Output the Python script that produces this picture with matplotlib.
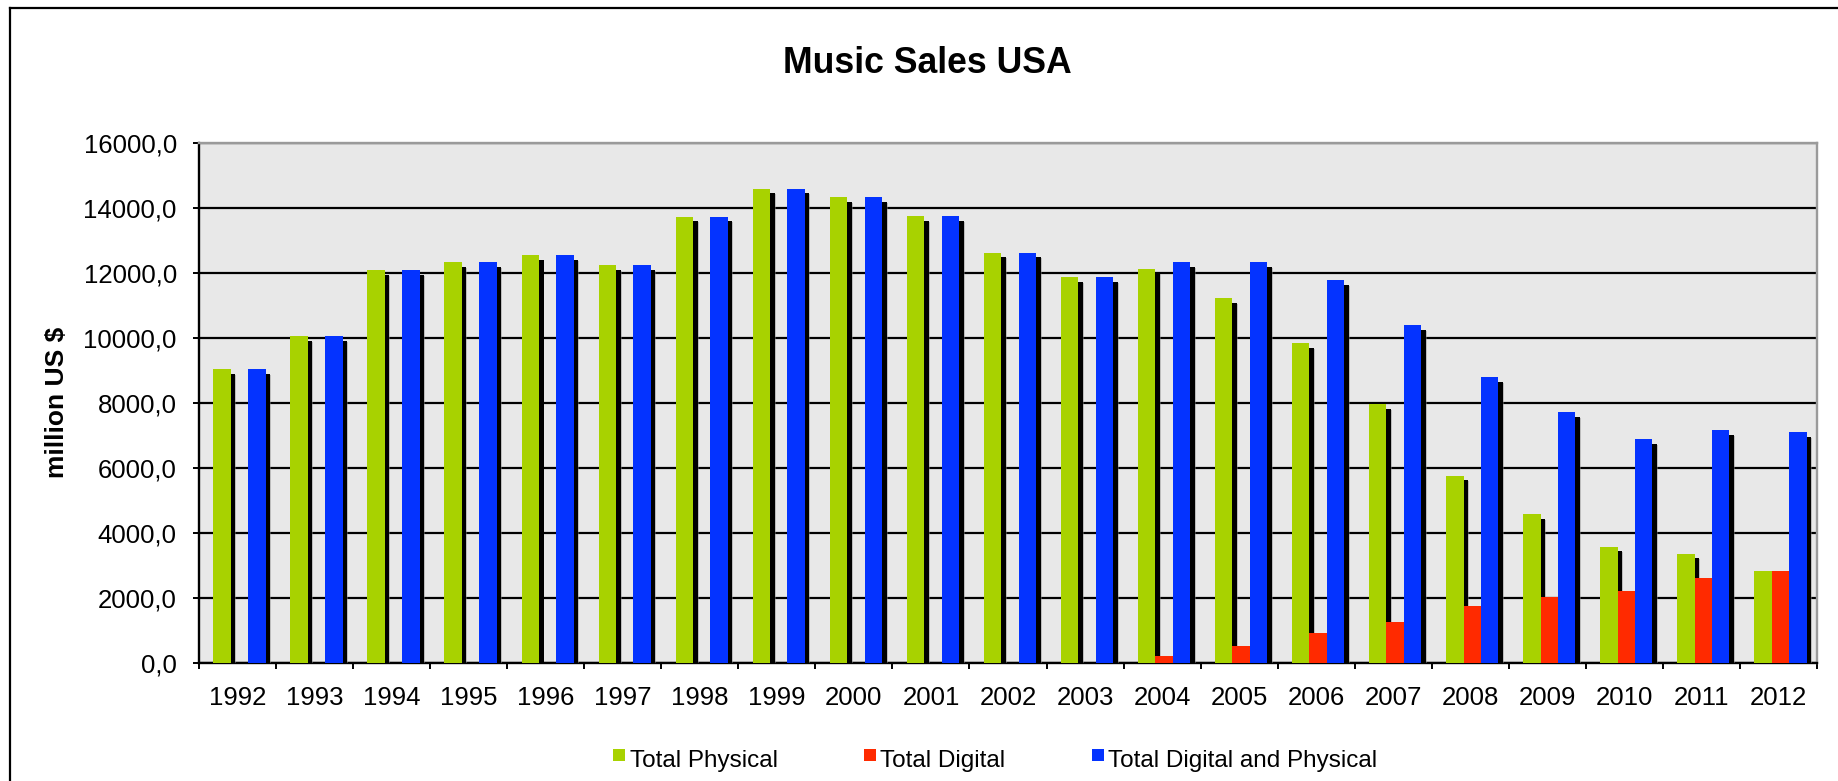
import matplotlib
matplotlib.use("Agg")
import matplotlib.pyplot as plt
import matplotlib.patheffects as pe
from matplotlib.patches import Rectangle
from matplotlib.lines import Line2D
from matplotlib.ticker import FixedLocator, FuncFormatter
import numpy as np

plt.rcParams['font.family'] = ['Liberation Sans', 'DejaVu Sans']

years = ['1992', '1993', '1994', '1995', '1996', '1997', '1998', '1999', '2000', '2001', '2002',
         '2003', '2004', '2005', '2006', '2007', '2008', '2009', '2010', '2011', '2012']
total_physical = [9024, 10046, 12068, 12320, 12534, 12237, 13724, 14585, 14324, 13741, 12614,
                  11854, 12120, 11210, 9830, 7960, 5750, 4570, 3570, 3360, 2810]
total_digital = [0, 0, 0, 0, 0, 0, 0, 0, 0, 0, 0,
                 0, 220, 500, 900, 1260, 1730, 2010, 2210, 2620, 2820]
total_both = [9024, 10046, 12068, 12320, 12534, 12237, 13724, 14585, 14324, 13741, 12614,
              11854, 12320, 12320, 11765, 10380, 8790, 7710, 6870, 7150, 7090]

series_names = ['Total Physical', 'Total Digital', 'Total Digital and Physical']
series_colors = ['#A8D200', '#FF2A00', '#0433FF']

W, H = 1838, 781
fig = plt.figure(figsize=(W / 100, H / 100), dpi=100)
fig.patch.set_facecolor('white')

ax_l, ax_r, ax_t, ax_b = 199, 1817, 142.7, 662.7
ax = fig.add_axes([ax_l / W, 1 - ax_b / H, (ax_r - ax_l) / W, (ax_b - ax_t) / H])
ax.set_facecolor('#E8E8E8')

x = np.arange(len(years))
bw = 0.226
offs = [-bw, 0.0, bw]
shadow = [pe.SimplePatchShadow(offset=(4.0, -4.0), shadow_rgbFace='#888888', alpha=0.45),
          pe.SimplePatchShadow(offset=(3.3, -3.3), shadow_rgbFace='black', alpha=1.0),
          pe.Normal()]
for vals, col, off in zip([total_physical, total_digital, total_both], series_colors, offs):
    bars = ax.bar(x + off + 0.025, vals, width=bw, color=col, linewidth=0, zorder=3)
    for b in bars:
        b.set_path_effects(shadow)

ax.set_xlim(-0.5, len(years) - 0.5)
ax.set_ylim(0, 16000)
ax.set_axisbelow(True)
ax.yaxis.set_major_locator(FixedLocator(np.arange(0, 16001, 2000)))
ax.yaxis.set_major_formatter(FuncFormatter(lambda v, p: f"{v:.1f}".replace('.', ',')))
ax.yaxis.grid(True, color='black', linewidth=1.6)
ax.xaxis.grid(False)

ax.set_xticks(x)
ax.set_xticklabels(years)
ax.set_xticks(np.arange(-0.5, len(years), 1.0), minor=True)
ax.tick_params(axis='x', which='major', length=0, pad=17, labelsize=18.5)
ax.tick_params(axis='x', which='minor', length=4.5, width=1.4, direction='out', color='black')
ax.tick_params(axis='y', which='major', length=4.5, width=1.4, direction='out', pad=11.5,
               labelsize=18.5, color='black')

for s in ['left', 'bottom']:
    ax.spines[s].set_color('black')
    ax.spines[s].set_linewidth(1.7)
for s in ['top', 'right']:
    ax.spines[s].set_color('#9A9A9A')
    ax.spines[s].set_linewidth(1.7)

ax.set_ylabel('million US $', fontsize=19, fontweight='bold')
ax.yaxis.label.set_rotation_mode('default')
ax.yaxis.label.set_va('center')
ax.yaxis.label.set_ha('center')
ax.yaxis.set_label_coords((57 - ax_l) / (ax_r - ax_l), 0.5)

fig.text(927 / W, 1 - 72.7 / H, 'Music Sales USA', ha='center', va='baseline',
         fontsize=25.7, fontweight='bold')

# legend
leg_marker_x = [613, 864, 1092]
for name, col, mx in zip(series_names, series_colors, leg_marker_x):
    fig.add_artist(Rectangle((mx / W, 1 - 761 / H), 12 / W, 12.5 / H,
                             transform=fig.transFigure, facecolor=col, edgecolor='none'))
    fig.text((mx + 16.5) / W, 1 - 766.7 / H, name, ha='left', va='baseline', fontsize=17.5)

# outer frame (top and left visible)
fig.add_artist(Line2D([9.5 / W, 1.0], [1 - 7.5 / H, 1 - 7.5 / H], transform=fig.transFigure,
                      color='black', linewidth=1.6))
fig.add_artist(Line2D([9.5 / W, 9.5 / W], [0.0, 1 - 7.5 / H], transform=fig.transFigure,
                      color='black', linewidth=1.6))

fig.savefig('out.png', dpi=100, facecolor='white')
